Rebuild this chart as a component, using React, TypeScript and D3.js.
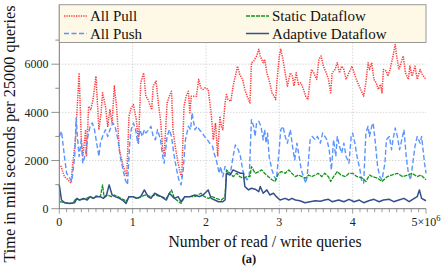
import React from 'react';
import * as d3 from 'd3';

// x in millions of read/write queries, y in ms per 25000 queries
const allPull: [number, number][] = [
  [0.02, 1780], [0.07, 1330], [0.11, 1220], [0.16, 1060], [0.18, 1750], [0.22, 2860], [0.27, 5640], [0.30, 2860],
  [0.32, 2170], [0.36, 3280], [0.37, 2170], [0.40, 4250], [0.43, 4110], [0.46, 4530], [0.50, 5500], [0.54, 3280],
  [0.57, 3980], [0.59, 4810], [0.63, 4250], [0.66, 3420], [0.69, 4110], [0.72, 3560], [0.75, 5090], [0.78, 4250],
  [0.82, 2450], [0.86, 1890], [0.89, 1610], [0.92, 1330], [0.95, 3840], [0.98, 4180], [1.01, 4320], [1.05, 3700],
  [1.08, 2720], [1.11, 5230], [1.15, 5640], [1.18, 4670], [1.21, 4530], [1.26, 4110], [1.28, 5090], [1.32, 5300],
  [1.35, 4390], [1.38, 3700], [1.41, 2450], [1.43, 2170], [1.47, 4390], [1.50, 4670], [1.53, 4880], [1.55, 3280],
  [1.58, 2590], [1.62, 1890], [1.65, 1470], [1.67, 1330], [1.70, 4250], [1.73, 4670], [1.76, 4880], [1.78, 3980],
  [1.80, 4670], [1.84, 4670], [1.87, 4670], [1.90, 5370], [1.93, 5020], [1.96, 4950], [1.99, 5020], [2.03, 4950],
  [2.07, 3980], [2.10, 2860], [2.13, 3560], [2.16, 2170], [2.19, 3840], [2.21, 3420], [2.23, 3280], [2.26, 4390],
  [2.28, 4740], [2.30, 4530], [2.34, 4460], [2.37, 5090], [2.40, 5500], [2.43, 5920], [2.46, 5570], [2.50, 5370],
  [2.53, 4950], [2.56, 4670], [2.60, 4390], [2.62, 6060], [2.65, 6130], [2.69, 6340], [2.72, 6620], [2.74, 6340],
  [2.78, 6060], [2.80, 6200], [2.83, 5640], [2.87, 5230], [2.90, 4810], [2.93, 4670], [2.95, 4530], [2.97, 5370],
  [3.00, 6340], [3.02, 6620], [3.05, 6200], [3.08, 5640], [3.11, 5090], [3.13, 5370], [3.15, 5640], [3.18, 5500],
  [3.20, 5090], [3.23, 5640], [3.26, 5160], [3.29, 5230], [3.33, 4950], [3.36, 4670], [3.39, 4530], [3.42, 5370],
  [3.44, 5780], [3.47, 5640], [3.51, 5370], [3.54, 6200], [3.57, 6340], [3.60, 5920], [3.64, 5640], [3.67, 5370],
  [3.70, 4810], [3.72, 5640], [3.76, 5780], [3.79, 6060], [3.82, 5640], [3.85, 5920], [3.88, 5780], [3.91, 5370],
  [3.95, 5640], [3.99, 5920], [4.02, 5640], [4.05, 5370], [4.09, 5090], [4.12, 4880], [4.15, 4670], [4.18, 5230],
  [4.21, 6060], [4.23, 5780], [4.26, 6060], [4.29, 5370], [4.32, 5230], [4.35, 4950], [4.38, 5160], [4.40, 4810],
  [4.42, 5780], [4.46, 5710], [4.48, 5500], [4.51, 5780], [4.55, 6340], [4.58, 6820], [4.60, 6340], [4.63, 5780],
  [4.66, 6060], [4.69, 6340], [4.72, 5640], [4.76, 5370], [4.78, 5920], [4.81, 5500], [4.85, 5920], [4.88, 5370],
  [4.92, 5780], [4.95, 5570], [5.00, 5370],
];

const allPush: [number, number][] = [
  [0.00, 3000], [0.03, 3210], [0.07, 2170], [0.10, 1470], [0.14, 1270], [0.17, 1130], [0.21, 2170], [0.23, 3770],
  [0.25, 2860], [0.27, 2170], [0.30, 2860], [0.32, 1890], [0.36, 2310], [0.39, 3000], [0.42, 3420], [0.45, 3560],
  [0.48, 3280], [0.51, 2720], [0.54, 2170], [0.56, 2720], [0.59, 3000], [0.63, 3280], [0.66, 3000], [0.69, 3280],
  [0.73, 3560], [0.76, 3420], [0.80, 2860], [0.83, 2170], [0.87, 1610], [0.90, 1200], [0.93, 990], [0.96, 2720],
  [0.98, 3280], [1.01, 3560], [1.04, 3280], [1.07, 2720], [1.10, 3280], [1.13, 3000], [1.16, 3280], [1.18, 3140],
  [1.22, 3280], [1.25, 3420], [1.28, 3000], [1.31, 2860], [1.34, 3280], [1.38, 2860], [1.41, 2170], [1.43, 1890],
  [1.47, 3000], [1.50, 3280], [1.53, 3000], [1.56, 2310], [1.60, 1610], [1.63, 1200], [1.66, 990], [1.69, 1610],
  [1.72, 2860], [1.76, 3420], [1.79, 3280], [1.81, 3980], [1.85, 3280], [1.88, 3420], [1.91, 3280], [1.95, 3140],
  [1.98, 3000], [2.02, 2860], [2.05, 2720], [2.09, 2590], [2.11, 2310], [2.14, 2030], [2.18, 1470], [2.20, 1750],
  [2.23, 1330], [2.26, 1750], [2.30, 1470], [2.34, 1610], [2.37, 2170], [2.40, 2650], [2.44, 2450], [2.47, 2170],
  [2.50, 1610], [2.53, 1330], [2.56, 1200], [2.59, 1330], [2.62, 3700], [2.65, 3420], [2.67, 3000], [2.69, 3560],
  [2.72, 3630], [2.75, 3420], [2.78, 2860], [2.80, 3280], [2.82, 2720], [2.84, 3140], [2.86, 2170], [2.90, 1610],
  [2.93, 1330], [2.96, 1200], [2.99, 2170], [3.02, 3280], [3.05, 3420], [3.08, 3000], [3.11, 2720], [3.15, 3280],
  [3.18, 2590], [3.21, 2030], [3.24, 2720], [3.27, 2170], [3.30, 1610], [3.33, 1330], [3.36, 1060], [3.38, 1330],
  [3.42, 2860], [3.45, 3000], [3.49, 2860], [3.52, 3000], [3.56, 2720], [3.59, 3140], [3.62, 3000], [3.65, 2860],
  [3.68, 2450], [3.71, 1610], [3.74, 2860], [3.77, 2170], [3.79, 3000], [3.82, 2590], [3.85, 2310], [3.88, 2720],
  [3.91, 2170], [3.95, 1890], [3.98, 3000], [4.00, 3140], [4.03, 2720], [4.06, 2170], [4.10, 1610], [4.12, 1200],
  [4.15, 1060], [4.18, 3140], [4.21, 3420], [4.23, 3000], [4.26, 3420], [4.28, 3560], [4.31, 2720], [4.34, 1750],
  [4.37, 1330], [4.40, 1200], [4.44, 1890], [4.46, 2860], [4.50, 3000], [4.53, 2450], [4.55, 2860], [4.58, 3350],
  [4.61, 3000], [4.64, 2450], [4.67, 2860], [4.70, 3280], [4.73, 2170], [4.76, 1470], [4.79, 1200], [4.82, 1890],
  [4.85, 2590], [4.88, 3000], [4.92, 2720], [4.94, 3000], [4.98, 1890], [5.00, 1470],
];

const staticDataflow: [number, number][] = [
  [0.00, 290], [0.09, 250], [0.18, 220], [0.23, 430], [0.27, 360], [0.32, 390], [0.37, 430], [0.42, 500],
  [0.47, 430], [0.50, 530], [0.56, 500], [0.59, 990], [0.61, 500], [0.66, 570], [0.71, 500], [0.75, 570],
  [0.80, 500], [0.84, 430], [0.89, 360], [0.91, 290], [0.95, 500], [1.00, 500], [1.07, 430], [1.14, 530],
  [1.18, 570], [1.25, 500], [1.30, 570], [1.39, 500], [1.46, 430], [1.53, 780], [1.57, 430], [1.66, 220],
  [1.71, 500], [1.78, 500], [1.85, 500], [1.89, 570], [1.93, 640], [1.98, 500], [2.03, 430], [2.08, 500],
  [2.14, 430], [2.21, 360], [2.26, 500], [2.28, 1610], [2.33, 1470], [2.37, 1330], [2.42, 1470], [2.46, 1330],
  [2.51, 1270], [2.56, 1330], [2.60, 1330], [2.62, 1750], [2.67, 1470], [2.72, 1540], [2.76, 1610], [2.80, 1470],
  [2.85, 1330], [2.90, 1200], [2.94, 1130], [2.99, 1470], [3.03, 1540], [3.08, 1470], [3.13, 1610], [3.17, 1470],
  [3.22, 1330], [3.26, 1400], [3.31, 1330], [3.36, 1270], [3.40, 1400], [3.44, 1330], [3.49, 1400], [3.53, 1470],
  [3.58, 1330], [3.62, 1470], [3.67, 1330], [3.70, 1130], [3.74, 1330], [3.79, 1540], [3.84, 1400], [3.90, 1330],
  [3.95, 1470], [4.00, 1470], [4.06, 1330], [4.13, 1270], [4.18, 1130], [4.23, 1400], [4.27, 1330], [4.34, 1270],
  [4.40, 1130], [4.47, 1330], [4.54, 1400], [4.61, 1470], [4.68, 1330], [4.75, 1400], [4.81, 1470], [4.88, 1330],
  [4.93, 1400], [5.00, 1200],
];

const adaptiveDataflow: [number, number][] = [
  [0.00, 990], [0.03, 360], [0.07, 250], [0.14, 220], [0.21, 250], [0.24, 430], [0.28, 360], [0.33, 430],
  [0.38, 360], [0.42, 500], [0.46, 430], [0.51, 500], [0.56, 500], [0.60, 430], [0.64, 530], [0.68, 990],
  [0.72, 570], [0.76, 500], [0.82, 430], [0.86, 360], [0.91, 220], [0.95, 500], [1.00, 500], [1.05, 430],
  [1.11, 500], [1.16, 780], [1.21, 500], [1.25, 430], [1.30, 640], [1.39, 500], [1.46, 360], [1.50, 640],
  [1.57, 430], [1.62, 500], [1.66, 290], [1.71, 500], [1.78, 500], [1.85, 570], [1.91, 500], [1.96, 570],
  [2.03, 780], [2.07, 430], [2.12, 360], [2.17, 290], [2.23, 290], [2.26, 360], [2.28, 1470], [2.33, 1400],
  [2.37, 1610], [2.42, 1540], [2.47, 1470], [2.51, 1470], [2.53, 920], [2.58, 780], [2.62, 850], [2.67, 810],
  [2.72, 710], [2.74, 920], [2.78, 640], [2.83, 780], [2.87, 570], [2.92, 640], [2.96, 500], [3.01, 360],
  [3.08, 430], [3.13, 360], [3.17, 430], [3.22, 360], [3.28, 330], [3.35, 250], [3.42, 290], [3.49, 330],
  [3.56, 310], [3.62, 360], [3.67, 390], [3.72, 290], [3.81, 360], [3.88, 290], [3.95, 390], [4.02, 290],
  [4.09, 360], [4.15, 250], [4.22, 330], [4.29, 390], [4.36, 290], [4.42, 360], [4.50, 390], [4.56, 290],
  [4.63, 360], [4.70, 430], [4.77, 290], [4.84, 430], [4.88, 500], [4.91, 780], [4.94, 430], [5.00, 330],
];

const yTickLabels = [0, 2000, 4000, 6000];
const xTickLabels = ['0', '1', '2', '3', '4'];

const seriesNames = ['All Pull', 'All Push', 'Static Dataflow', 'Adaptive Dataflow'];

const styles = [
  { color: '#ff3b3b', width: 1.5, dash: '1.3,1.1' },
  { color: '#5a94ff', width: 1.4, dash: '5,2.5' },
  { color: '#14961e', width: 1.3, dash: '4,1' },
  { color: '#33508a', width: 1.5, dash: '' },
];

const serif = '"Liberation Serif", "Times New Roman", serif';

export default function App() {
  const x = d3.scaleLinear().domain([0, 5e6]).range([59.3, 426]);
  const y = d3.scaleLinear().domain([0, 8470]).range([208.7, 4.7]);
  const line = d3.line<[number, number]>()
    .x((d) => x(d[0] * 1e6))
    .y((d) => y(d[1]));

  const data = [allPull, allPush, staticDataflow, adaptiveDataflow];
  const minorX = d3.range(0, 5e6 + 1, 1e5);
  const minorY = d3.range(0, 7001, 1000);
  const [x0, x1] = x.range();
  const [y0, yTop] = y.range();
  const legendBottom = 42.5;

  return (
    <svg width={441} height={267} style={{ position: 'absolute', left: 0, top: 0, background: '#fff' }}>
      {/* grid */}
      {[1e6, 2e6, 3e6, 4e6].map((v) => (
        <line key={'gx' + v} x1={x(v)} x2={x(v)} y1={y0} y2={legendBottom}
          stroke="#b8b8b8" strokeWidth={0.8} strokeDasharray="1,2" />
      ))}
      {[2000, 4000, 6000].map((v) => (
        <line key={'gy' + v} x1={x0} x2={x1} y1={y(v)} y2={y(v)}
          stroke="#b8b8b8" strokeWidth={0.8} strokeDasharray="1,2" />
      ))}

      {/* series */}
      {data.map((d, i) => (
        <path key={i} d={line(d) || ''} fill="none" stroke={styles[i].color}
          strokeWidth={styles[i].width} strokeDasharray={styles[i].dash || undefined}
          strokeLinejoin="round" />
      ))}

      {/* axes */}
      <line x1={x0} x2={x0} y1={y0} y2={yTop} stroke="#777" strokeWidth={1} />
      <line x1={x0} x2={x1} y1={y0} y2={y0} stroke="#777" strokeWidth={1} />
      {minorY.map((v) => (
        <line key={'ty' + v} x1={x0 - (v % 2000 === 0 ? 8 : 4)} x2={x0} y1={y(v)} y2={y(v)}
          stroke="#777" strokeWidth={0.8} />
      ))}
      {minorX.map((v) => (
        <line key={'tx' + v} x1={x(v)} x2={x(v)} y1={y0} y2={y0 + (Math.round(v) % 1e6 === 0 ? 5 : 3.5)}
          stroke="#777" strokeWidth={0.7} />
      ))}
      {yTickLabels.map((v) => (
        <text key={'yl' + v} x={48.5} y={y(v)} dy="0.35em" textAnchor="end"
          fontFamily={serif} fontSize={12} fill="#222">{v}</text>
      ))}
      {xTickLabels.map((t, i) => (
        <text key={'xl' + t} x={x(i * 1e6)} y={226} textAnchor="middle"
          fontFamily={serif} fontSize={12} fill="#222">{t}</text>
      ))}
      <text x={x(5e6)} y={226} textAnchor="middle" fontFamily={serif} fontSize={12} fill="#222">
        5×10<tspan fontSize={8.5} dy={-5}>6</tspan>
      </text>

      {/* labels */}
      <text x={265} y={246.5} textAnchor="middle" fontFamily={serif} fontSize={15.7} fill="#111">
        Number of read / write queries
      </text>
      <text x={249} y={263} textAnchor="middle" fontFamily={serif} fontSize={12.5} fontWeight="bold" fill="#111">
        (a)
      </text>
      <text transform="translate(14.5,134) rotate(-90)" textAnchor="middle" fontFamily={serif}
        fontSize={16.3} fill="#111">
        Time in mili seconds per 25000 queries
      </text>

      {/* legend */}
      <rect x={x0} y={yTop} width={x1 - x0} height={legendBottom - yTop}
        fill="#fdf9e6" stroke="#999" strokeWidth={1} />
      {seriesNames.map((name, i) => {
        const lx = i < 2 ? 64 : 246;
        const ly = i % 2 === 0 ? 16 : 33.5;
        return (
          <g key={name}>
            <line x1={lx} x2={lx + 23} y1={ly} y2={ly} stroke={styles[i].color}
              strokeWidth={styles[i].width} strokeDasharray={styles[i].dash || undefined} />
            <text x={lx + 26} y={ly + 5} fontFamily={serif} fontSize={15} fill="#111">{name}</text>
          </g>
        );
      })}
    </svg>
  );
}
